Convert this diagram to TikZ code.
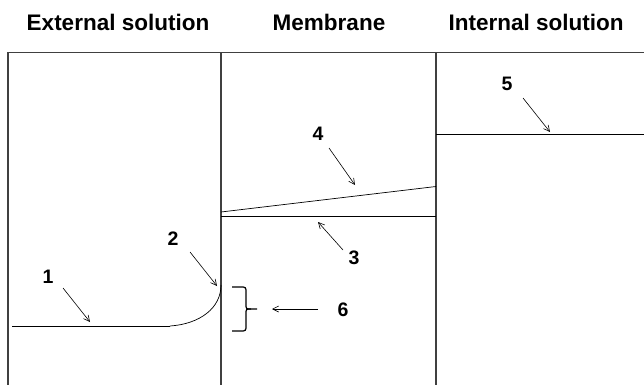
\documentclass[tikz,border=0pt]{standalone}
\usepackage{fontspec}
\setmainfont{Liberation Sans}
\usetikzlibrary{arrows.meta}
\tikzset{
  wall/.style={line width=1.1pt, draw=black!75},
  level/.style={line width=1pt},
  pointer/.style={line width=0.6pt, -{Straight Barb[length=6pt,width=6pt]}},
  heading/.style={font=\fontsize{22.5}{24}\selectfont\bfseries, anchor=center},
  num/.style={font=\fontsize{19.5}{21}\selectfont\bfseries, anchor=center}
}
\begin{document}
\begin{tikzpicture}[x=1pt,y=-1pt]
\useasboundingbox (0,0) rectangle (644,385);

% column headings
\node[heading] (hext) at (118,22) {External solution};
\node[heading] (hmem) at (329,22) {Membrane};
\node[heading] (hint) at (536,22) {Internal solution};

% frame: top rule and the two interfaces
\coordinate (tl) at (8,52.5);
\coordinate (tr) at (644,52.5);
\coordinate (bl) at (8,385);
\coordinate (m1t) at (221,52.5);
\coordinate (m1b) at (221,385);
\coordinate (m2t) at (436,52.5);
\coordinate (m2b) at (436,385);
\draw[wall] (tl) -- (tr);
\draw[wall] (tl) -- (bl);
\draw[wall] (m1t) -- (m1b);
\draw[wall] (m2t) -- (m2b);

% profile in the external solution with the boundary-layer bend
\coordinate (p1a) at (12,326);
\coordinate (p1b) at (170,326);
\coordinate (p2) at (221,285);
\draw[level] (p1a) -- (p1b);
\draw[line width=0.7pt] (p1b) .. controls (200,324) and (221,308) .. (p2);

% profiles inside the membrane
\coordinate (p3a) at (221,216.5);
\coordinate (p3b) at (436,216.5);
\draw[level] (p3a) -- (p3b);
\coordinate (p4a) at (221,212);
\coordinate (p4b) at (436,186.5);
\draw[line width=0.7pt] (p4a) -- (p4b);

% profile in the internal solution
\coordinate (p5a) at (436,134.5);
\coordinate (p5b) at (644,134.5);
\draw[level] (p5a) -- (p5b);

% brace marking the boundary layer
\coordinate (bt) at (232,287);
\coordinate (bb) at (232,331);
\coordinate (btip) at (257,309);
\draw[line width=1.2pt]
  (bt) -- (240,287) .. controls (246,287) .. (246,293) -- (246,304)
  .. controls (246,309) .. (251,309) -- (btip);
\draw[line width=1.2pt]
  (bb) -- (240,331) .. controls (246,331) .. (246,325) -- (246,314)
  .. controls (246,309) .. (251,309);

% numbered labels and their pointers
\node[num] (n1) at (48,277) {1};
\coordinate (a1s) at (63,288); \coordinate (a1e) at (90,322);
\draw[pointer] (a1s) -- (a1e);

\node[num] (n2) at (173,239) {2};
\coordinate (a2s) at (190,252); \coordinate (a2e) at (217,286);
\draw[pointer] (a2s) -- (a2e);

\node[num] (n3) at (354,258) {3};
\coordinate (a3s) at (343,250); \coordinate (a3e) at (318,222);
\draw[pointer] (a3s) -- (a3e);

\node[num] (n4) at (318,134) {4};
\coordinate (a4s) at (329,148); \coordinate (a4e) at (355,185);
\draw[pointer] (a4s) -- (a4e);

\node[num] (n5) at (507,84) {5};
\coordinate (a5s) at (523,98); \coordinate (a5e) at (550,132);
\draw[pointer] (a5s) -- (a5e);

\node[num] (n6) at (343,310) {6};
\coordinate (a6s) at (318,309); \coordinate (a6e) at (272,309);
\draw[pointer] (a6s) -- (a6e);
\end{tikzpicture}
\end{document}
